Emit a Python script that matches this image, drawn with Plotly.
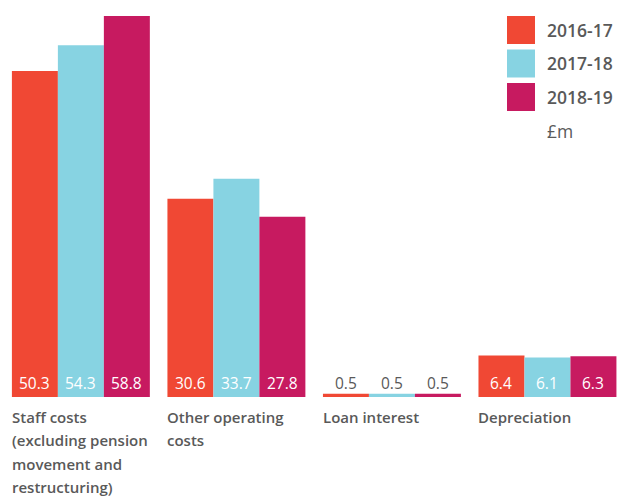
import plotly.graph_objects as go

categories = ["Staff costs<br>(excluding pension<br>movement and<br>restructuring)",
              "Other operating<br>costs", "Loan interest", "Depreciation"]
series_names = ["2016-17", "2017-18", "2018-19"]
values_2016 = [50.3, 30.6, 0.5, 6.4]
values_2017 = [54.3, 33.7, 0.5, 6.1]
values_2018 = [58.8, 27.8, 0.5, 6.3]
unit_label = "£m"

colors = ["#F04834", "#87D3E2", "#C71A60"]
grey = "#595959"
FONT = "Open Sans"

all_series = [values_2016, values_2017, values_2018]

fig = go.Figure()
x_idx = list(range(len(categories)))
for name, vals, col in zip(series_names, all_series, colors):
    fig.add_trace(go.Bar(
        x=x_idx, y=vals, name=name, marker=dict(color=col, line=dict(width=0)),
        showlegend=False, hoverinfo="y",
    ))

bargap = 0.113
fig.update_layout(
    width=619, height=496, barmode="group", bargap=bargap, bargroupgap=0,
    margin=dict(l=0, r=0, t=16, b=99),
    plot_bgcolor="white", paper_bgcolor="white",
    font=dict(family=FONT, color=grey),
    xaxis=dict(range=[-0.52, 3.46], showticklabels=False, showgrid=False,
               zeroline=False, showline=False, ticks=""),
    yaxis=dict(range=[0, 58.8], visible=False),
)

# value labels near the bottom of each bar
w = (1 - bargap) / len(series_names)
for k, vals in enumerate(all_series):
    for i, v in enumerate(vals):
        inside = v > 2
        fig.add_annotation(x=i + (k - 1) * w, y=0, xref="x", yref="y",
                           text=f"{v:.1f}", showarrow=False,
                           xanchor="center", yanchor="middle", yshift=14,
                           font=dict(size=15.5, family=FONT,
                                     color="white" if inside else grey))

# category labels, one line per annotation
half = (1 - bargap) / 2
for i, cat in enumerate(categories):
    for j, line in enumerate(cat.split("<br>")):
        fig.add_annotation(x=i - half, y=0, xref="x", yref="y", text=line,
                           showarrow=False, xanchor="left", yanchor="middle",
                           yshift=-19.5 - 23.6 * j, xshift=-2,
                           font=dict(size=15, color=grey, family=FONT, weight=600))

# custom legend
for k, (name, col) in enumerate(zip(series_names, colors)):
    top = 16 + 33.5 * k
    y0 = 1 - (top - 16) / 381
    y1 = 1 - (top + 28 - 16) / 381
    fig.add_shape(type="rect", xref="paper", yref="paper",
                  x0=507 / 619, x1=535 / 619, y0=y1, y1=y0,
                  fillcolor=col, line=dict(width=0))
    fig.add_annotation(xref="paper", yref="paper", x=545 / 619, y=(y0 + y1) / 2,
                       text=name, showarrow=False, xanchor="left", yanchor="middle",
                       font=dict(size=17.5, color=grey, family=FONT, weight=600))
fig.add_annotation(xref="paper", yref="paper", x=545 / 619, y=1 - (131 - 16) / 381,
                   text=unit_label, showarrow=False, xanchor="left", yanchor="middle",
                   font=dict(size=17.5, color=grey, family=FONT))

fig.write_html("out.html", config={"displayModeBar": False},
               post_script="document.body.style.margin='0';document.body.style.overflow='hidden';")
